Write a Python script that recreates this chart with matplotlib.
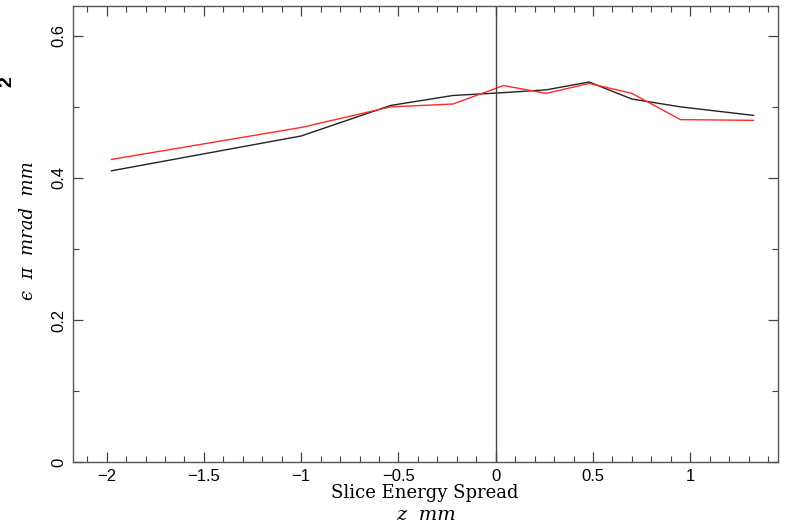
import numpy as np
import matplotlib
matplotlib.use('Agg')
import matplotlib.pyplot as plt
from matplotlib.ticker import MultipleLocator

# slice positions (mm) and emittance values
z_pos = [-1.975, -1.0, -0.54, -0.22, 0.04, 0.26, 0.48, 0.70, 0.95, 1.325]
emit_black = [0.410, 0.459, 0.502, 0.516, 0.520, 0.524, 0.535, 0.511, 0.500, 0.488]
emit_red = [0.426, 0.471, 0.500, 0.504, 0.530, 0.519, 0.533, 0.519, 0.482, 0.481]

x_ticks = [-2, -1.5, -1, -0.5, 0, 0.5, 1]
x_ticklabels = ['\u22122', '\u22121.5', '\u22121', '\u22120.5', '0', '0.5', '1']
y_ticks = [0, 0.2, 0.4, 0.6]
y_ticklabels = ['0', '0.2', '0.4', '0.6']

W, H = 787, 527
fig = plt.figure(figsize=(W / 100, H / 100), dpi=100)
ax = fig.add_axes([73 / W, 1 - 462 / H, (778 - 73) / W, (462 - 6) / H])

ax.plot(z_pos, emit_black, color='#222222', lw=1.0)
ax.plot(z_pos, emit_red, color='#ff2a2a', lw=1.0)
ax.axvline(0, color='#444444', lw=1.0)

ax.set_xlim(-2.173, 1.451)
ax.set_ylim(0, 0.642)

ax.set_xticks(x_ticks)
ax.set_xticklabels(x_ticklabels)
ax.set_yticks(y_ticks)
ax.set_yticklabels(y_ticklabels, rotation=90, va='center')
ax.xaxis.set_minor_locator(MultipleLocator(0.1))
ax.yaxis.set_minor_locator(MultipleLocator(0.1))
ax.tick_params(which='both', direction='in', top=True, right=True, color='#444444')
ax.tick_params(which='major', length=7, width=0.9, labelsize=12, pad=5)
ax.tick_params(which='minor', length=4, width=0.8)
for lab in ax.get_xticklabels() + ax.get_yticklabels():
    lab.set_family('Liberation Sans')
for sp in ax.spines.values():
    sp.set_color('#555555')
    sp.set_linewidth(1.0)

# axis titles
fig.text(425 / W, 1 - 493 / H, 'Slice Energy Spread', ha='center', va='center',
         family='DejaVu Serif', fontsize=13)
fig.text(426 / W, 1 - 515 / H, 'z  mm', ha='center', va='center',
         family='DejaVu Serif', style='italic', fontsize=14)
fig.text(28 / W, 1 - 231 / H, '\u03f5  \u03c0  mrad  mm', ha='center', va='center',
         rotation=90, family='DejaVu Serif', style='italic', fontsize=13)
fig.text(7 / W, 1 - 82 / H, '2', ha='center', va='center', rotation=90,
         family='Liberation Sans', weight='bold', fontsize=14)

plt.savefig('out.png', dpi=100)
